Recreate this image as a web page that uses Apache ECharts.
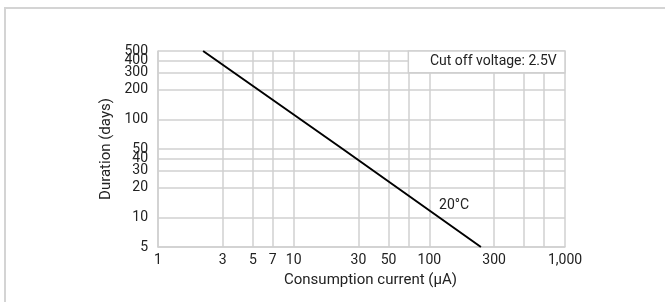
<!DOCTYPE html>
<html>
<head>
<meta charset="utf-8">
<script src="https://cdn.jsdelivr.net/npm/echarts@6/dist/echarts.min.js"></script>
<style>
  html, body { margin: 0; padding: 0; background: #fff; }
  #chart { width: 665px; height: 302px; }
  /* light frame round the figure, as in the source */
  #frame { position: absolute; left: 4px; top: 7px; width: 680px; height: 320px;
           border-left: 2px solid #d4d4d4; border-top: 2px solid #d4d4d4; pointer-events: none; }
</style>
</head>
<body>
<div id="chart"></div>
<div id="frame"></div>
<script>
// consumption current (µA) vs duration (days)
const currents = [2.15, 23, 240];
const durations = [500, 50, 5];

const xGridValues = [1, 3, 5, 7, 10, 30, 50, 70, 100, 300, 500, 700, 1000];
const xLabelValues = [1, 3, 5, 7, 10, 30, 50, 100, 300, 1000];
// top value nudged under 500 so the log round trip keeps it inside the extent
const yGridValues = [5, 10, 20, 30, 40, 50, 100, 200, 300, 400, 499.999];
// same labels, shuffled so the end-label overlap check does not drop 400
const yLabelValues = [5, 499.999, 10, 20, 30, 40, 400, 50, 100, 200, 300];

const noteText = 'Cut off voltage: 2.5V';
const noteBox = [[70, 300], [1000, 500]];
const tempText = '20°C';
const tempAt = [118, 13.4];

const FONT = 'Roboto';
const TEXT = '#222';
const GRID = '#d0d0d0';

const chart = echarts.init(document.getElementById('chart'), null, { renderer: 'canvas' });

const axisBase = {
  type: 'log',
  logBase: 10,
  nameLocation: 'middle',
  nameTextStyle: { color: TEXT, fontFamily: FONT, fontSize: 15 },
  axisLine: { show: true, lineStyle: { color: GRID, width: 1.5 } },
  axisTick: { show: false },
  splitLine: { show: true, lineStyle: { color: GRID, width: 1.5 } },
  minorTick: { show: false },
  minorSplitLine: { show: false }
};

chart.setOption({
  animation: false,
  grid: { left: 158, right: 100, top: 51, bottom: 55 },
  xAxis: Object.assign({}, axisBase, {
    min: 1,
    max: 1000,
    name: 'Consumption current (µA)',
    nameGap: 26,
    nameTextStyle: { color: TEXT, fontFamily: FONT, fontSize: 15, padding: [0, 0, 0, 18] },
    axisTick: { show: false, customValues: xGridValues },
    axisLabel: {
      customValues: xLabelValues,
      showMinLabel: true, showMaxLabel: true,
      color: TEXT, fontFamily: FONT, fontSize: 14, margin: 6,
      formatter: v => Math.round(v).toLocaleString('en-US')
    }
  }),
  yAxis: Object.assign({}, axisBase, {
    min: 5,
    max: 500,
    name: 'Duration (days)',
    nameGap: 44,
    axisTick: { show: false, customValues: yGridValues },
    axisLabel: {
      customValues: yLabelValues,
      showMinLabel: true, showMaxLabel: true,
      color: TEXT, fontFamily: FONT, fontSize: 14, margin: 10,
      hideOverlap: false,
      formatter: v => String(Math.round(v))
    }
  }),
  series: [{
    type: 'line',
    data: currents.map((c, i) => [c, durations[i]]),
    showSymbol: false,
    lineStyle: { color: '#000', width: 2 },
    z: 3,
    markArea: {
      silent: true,
      itemStyle: { color: '#fff', borderColor: GRID, borderWidth: 1.5 },
      label: {
        show: true, position: 'insideRight', distance: 9,
        color: TEXT, fontFamily: FONT, fontSize: 14
      },
      data: [[{ coord: noteBox[0], name: noteText }, { coord: noteBox[1] }]]
    },
    markPoint: {
      silent: true,
      symbolSize: 0,
      label: {
        show: true, position: 'right', distance: 0,
        color: TEXT, fontFamily: FONT, fontSize: 14,
        formatter: tempText
      },
      data: [{ coord: tempAt }]
    }
  }]
});
</script>
</body>
</html>
